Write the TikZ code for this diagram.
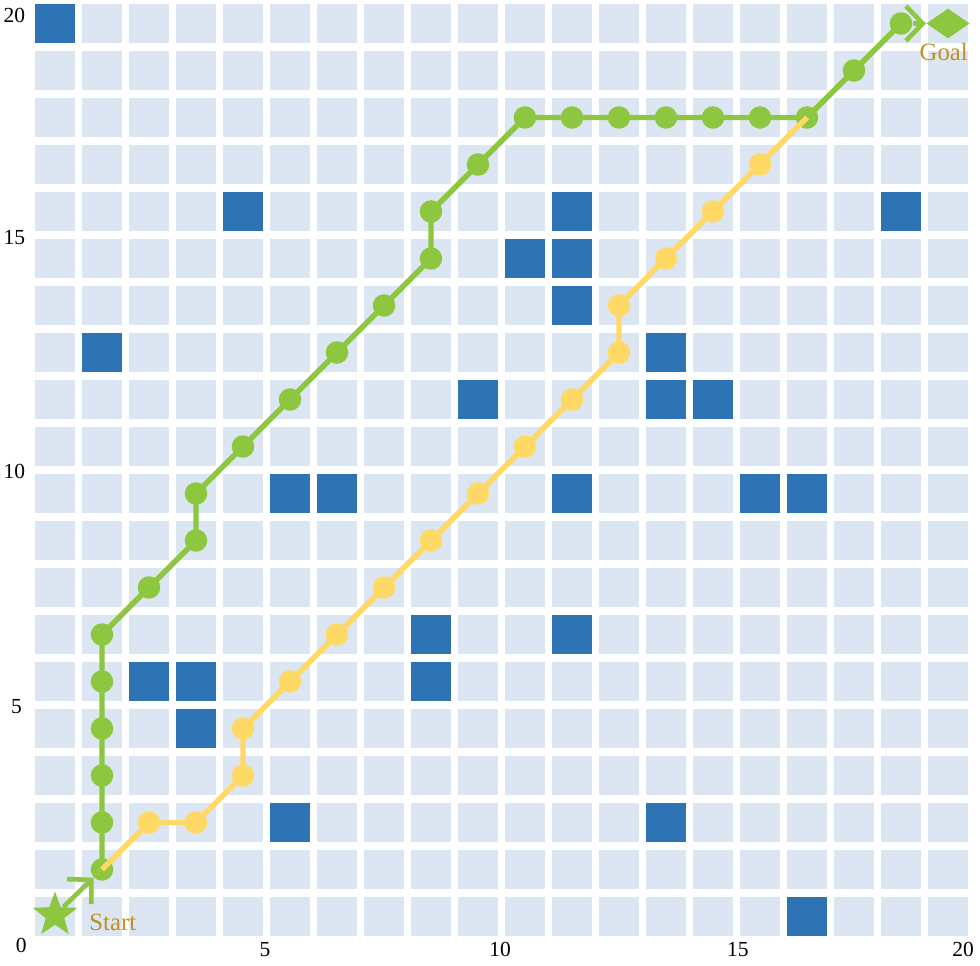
\documentclass[tikz,border=0pt]{standalone}
\usepackage{fontspec}
\setmainfont{Liberation Serif}
\usetikzlibrary{shapes.geometric,arrows.meta}
\definecolor{cellc}{HTML}{DCE6F2}
\definecolor{obsc}{HTML}{2E74B5}
\definecolor{grn}{HTML}{8DC63F}
\definecolor{ylw}{HTML}{FFD966}
\definecolor{goldt}{HTML}{C08F25}
\tikzset{
  cellbox/.style={fill=cellc},
  obsbox/.style={fill=obsc},
  gline/.style={draw=grn,line width=3.3pt,line join=round},
  yline/.style={draw=ylw,line width=3.3pt,line join=round},
  gdot/.style={circle,fill=grn,minimum size=0.48cm,inner sep=0pt},
  ydot/.style={circle,fill=ylw,minimum size=0.48cm,inner sep=0pt},
  barb/.style={draw=grn,line width=2.8pt,-{Straight Barb[length=3.6mm,width=7.4mm]}},
  lbl/.style={font=\fontsize{15}{17}\selectfont,text=goldt,inner sep=0pt},
  axl/.style={font=\fontsize{13}{15}\selectfont,text=black,inner sep=0pt}
}
\begin{document}
\begin{tikzpicture}[x=1cm,y=1cm]
\useasboundingbox (-0.670,-0.532) rectangle (20.181,20.0);
\fill[white] (-0.670,-0.532) rectangle (20.181,20.0);
% grid cells
\foreach \i in {0,...,19}{
  \foreach \j in {0,...,19}{
    \fill[cellbox] (\i+0.075,\j+0.075) rectangle ++(0.85,0.85);
  }
}
% obstacles
\foreach \i/\j in {0/19,4/15,11/15,18/15,10/14,11/14,11/13,1/12,13/12,9/11,13/11,14/11,5/9,6/9,11/9,15/9,16/9,8/6,11/6,2/5,3/5,8/5,3/4,5/2,13/2,16/0}{
  \fill[obsbox] (\i+0.075,\j+0.075) rectangle ++(0.85,0.85);
}
% axis labels
\node[axl,anchor=east] (y20) at (-0.13,19.68) {20};
\node[axl,anchor=east] (y15) at (-0.13,14.94) {15};
\node[axl,anchor=east] (y10) at (-0.13,9.96) {10};
\node[axl,anchor=east] (y5) at (-0.20,4.96) {5};
\node[axl] (o0) at (-0.22,-0.11) {0};
\node[axl] (x5) at (4.97,-0.21) {5};
\node[axl] (x10) at (9.97,-0.21) {10};
\node[axl] (x15) at (15.03,-0.21) {15};
\node[axl] (x20) at (19.82,-0.21) {20};
% green path coordinates
\foreach \x/\y [count=\k] in {1.5/1.5,1.5/2.5,1.5/3.5,1.5/4.5,1.5/5.5,1.5/6.5,2.5/7.5,3.5/8.5,3.5/9.5,4.5/10.5,5.5/11.5,6.5/12.5,7.5/13.5,8.5/14.5,8.5/15.5,9.5/16.5,10.5/17.5,11.5/17.5,12.5/17.5,13.5/17.5,14.5/17.5,15.5/17.5,16.5/17.5,17.5/18.5,18.5/19.5}{
  \coordinate (g\k) at (\x,\y);
}
% yellow path coordinates
\foreach \x/\y [count=\k] in {1.5/1.5,2.5/2.5,3.5/2.5,4.5/3.5,4.5/4.5,5.5/5.5,6.5/6.5,7.5/7.5,8.5/8.5,9.5/9.5,10.5/10.5,11.5/11.5,12.5/12.5,12.5/13.5,13.5/14.5,14.5/15.5,15.5/16.5,16.5/17.5}{
  \coordinate (y\k) at (\x,\y);
}
% start and goal markers
\node[star,star points=5,star point ratio=2.4,fill=grn,minimum size=1.0cm,inner sep=0pt] (start) at (0.5,0.53) {};
\node[diamond,fill=grn,minimum width=0.92cm,minimum height=0.64cm,inner sep=0pt] (goal) at (19.5,19.5) {};
% green path
\draw[gline] (g1) \foreach \k in {2,...,25}{ -- (g\k) };
\foreach \k in {1,...,25}{ \node[gdot] (gd\k) at (g\k) {}; }
\draw[barb] (start) -- (gd1);
\draw[barb] (gd25) -- (goal);
% yellow path
\draw[yline] (y1) \foreach \k in {2,...,18}{ -- (y\k) };
\foreach \k in {2,...,17}{ \node[ydot] (yd\k) at (y\k) {}; }
% labels
\node[lbl] (startlbl) at (1.73,0.38) {Start};
\node[lbl] (goallbl) at (19.41,18.89) {Goal};
\end{tikzpicture}
\end{document}
